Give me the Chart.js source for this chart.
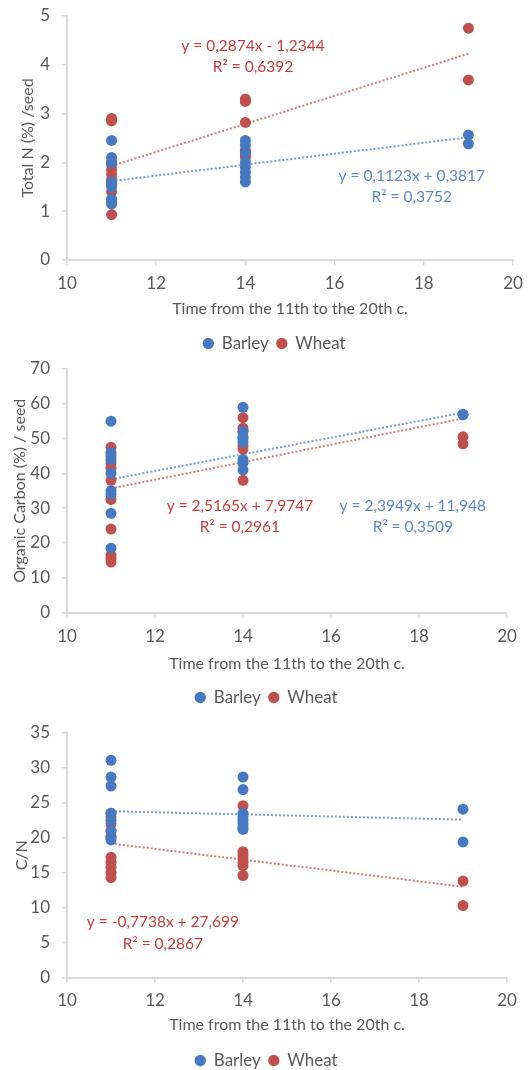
<!DOCTYPE html>
<html lang="en">
<head>
  <meta charset="UTF-8" />
  <title>Barley and wheat seeds, 11th to 20th c.</title>
  <script src="https://cdn.jsdelivr.net/npm/chart.js"></script>
  <style>
    html, body { margin: 0; padding: 0; background: #fff; overflow: hidden; }
    .box { position: absolute; left: 0; width: 528px; }
    canvas { display: block; }
  </style>
</head>
<body>
  <div class="box" style="top:0px"><canvas id="chartN" width="528" height="362"></canvas></div>
  <div class="box" style="top:352px"><canvas id="chartC" width="528" height="364"></canvas></div>
  <div class="box" style="top:710px"><canvas id="chartCN" width="528" height="369"></canvas></div>

  <script>
    // series names
    const seriesNames = ['Barley', 'Wheat'];
    const xTitle = 'Time from the 11th to the 20th c.';

    // total N (%) per seed
    const nBarleyX = [11, 11, 11, 11, 11, 11, 11, 11, 14, 14, 14, 14, 14, 14, 14, 14, 19, 19];
    const nBarleyY = [2.45, 2.1, 2.0, 1.6, 1.5, 1.25, 1.2, 1.15, 2.45, 2.35, 2.2, 2.0, 1.9, 1.8, 1.7, 1.6, 2.56, 2.38];
    const nWheatX = [11, 11, 11, 11, 11, 11, 11, 11, 11, 11, 14, 14, 14, 14, 14, 14, 19, 19];
    const nWheatY = [2.9, 2.85, 2.0, 1.95, 1.85, 1.75, 1.65, 1.55, 1.4, 0.93, 3.3, 3.25, 2.82, 2.25, 2.15, 2.1, 4.75, 3.69];

    // organic carbon (%) per seed
    const cBarleyX = [11, 11, 11, 11, 11, 11, 11, 11, 14, 14, 14, 14, 14, 14, 14, 14, 19, 19];
    const cBarleyY = [55, 46, 44, 40, 35, 34, 28.5, 18.5, 59, 52, 50.5, 50, 49, 44, 43, 41, 57, 56.8];
    const cWheatX = [11, 11, 11, 11, 11, 11, 11, 11, 11, 11, 14, 14, 14, 14, 14, 14, 19, 19];
    const cWheatY = [47.5, 45, 43, 41.5, 38, 32.5, 24, 16.5, 15.5, 14.5, 56, 53, 52, 48, 47, 38, 50.5, 48.5];

    // C/N ratio
    const cnBarleyX = [11, 11, 11, 11, 11, 11, 11, 11, 14, 14, 14, 14, 14, 14, 14, 14, 19, 19];
    const cnBarleyY = [31.1, 28.7, 27.4, 23.5, 22.5, 21, 20, 19.7, 28.7, 26.9, 23.5, 23, 22.5, 22, 21.5, 21.2, 24.1, 19.4];
    const cnWheatX = [11, 11, 11, 11, 11, 11, 11, 11, 11, 11, 14, 14, 14, 14, 14, 14, 14, 19, 19];
    const cnWheatY = [23.5, 23, 22, 21, 20.2, 17.2, 16.5, 15.8, 15, 14.3, 24.6, 18, 17.5, 17, 16.5, 16, 14.6, 13.8, 10.3];

    // trend lines: [slope, intercept], drawn between the first and last sample
    const trendRange = [11, 19];
    const nTrend = { barley: [0.1123, 0.3817], wheat: [0.2874, -1.2344] };
    const cTrend = { barley: [2.3949, 11.948], wheat: [2.5165, 7.9747] };
    const cnTrend = { barley: [-0.15, 25.45], wheat: [-0.7738, 27.699] }; // barley one has no label

    const BLUE = '#4679C2';
    const RED = '#C0504D';
    const BLUE_TXT = '#5A8AC8';
    const RED_TXT = '#C83E3C';
    const GREY = '#595959';
    const AXIS = '#D9D9D9';
    const FONT = 'Lato';

    Chart.defaults.font.family = FONT;
    Chart.defaults.font.size = 17;
    Chart.defaults.color = GREY;

    // writes the trend equations in data coordinates
    const eqLabels = {
      id: 'eqLabels',
      afterDatasetsDraw(chart, args, opts) {
        const { ctx, scales: { x, y } } = chart;
        ctx.save();
        ctx.font = '15.5px ' + FONT;
        ctx.textAlign = 'center';
        ctx.textBaseline = 'middle';
        (opts.items || []).forEach(it => {
          ctx.fillStyle = it.color;
          ctx.fillText(it.text, x.getPixelForValue(it.x), y.getPixelForValue(it.y));
        });
        ctx.restore();
      }
    };

    // nudges the legend sideways (the original one is not centred on the canvas)
    const legendShift = {
      id: 'legendShift',
      afterLayout(chart, args, opts) {
        const lg = chart.legend;
        if (lg && opts.dx) { lg.left += opts.dx; lg.right += opts.dx; }
      }
    };

    const toPoints = (xs, ys) => xs.map((v, i) => ({ x: v, y: ys[i] }));
    const trendPoints = ([a, b]) => trendRange.map(t => ({ x: t, y: a * t + b }));

    function makeChart(id, o) {
      const ctx = document.getElementById(id).getContext('2d');
      return new Chart(ctx, {
        type: 'scatter',
        data: {
          datasets: [
            { label: seriesNames[0], data: toPoints(o.bx, o.by), backgroundColor: BLUE, borderWidth: 0, pointRadius: 5.5, pointHoverRadius: 5.5 },
            { label: seriesNames[1], data: toPoints(o.wx, o.wy), backgroundColor: RED, borderWidth: 0, pointRadius: 5.5, pointHoverRadius: 5.5 },
            { label: 'trend-b', data: trendPoints(o.trend.barley), showLine: true, pointRadius: 0, borderColor: 'rgba(70,121,194,0.75)', borderWidth: 2, borderDash: [2, 2] },
            { label: 'trend-w', data: trendPoints(o.trend.wheat), showLine: true, pointRadius: 0, borderColor: 'rgba(192,80,77,0.75)', borderWidth: 2, borderDash: [2, 2] }
          ]
        },
        options: {
          responsive: false,
          animation: false,
          layout: { padding: { top: o.padTop, right: o.padRight, left: 0, bottom: 0 } },
          plugins: {
            tooltip: { enabled: false },
            legend: {
              position: 'bottom',
              labels: {
                usePointStyle: true, pointStyle: 'circle', boxWidth: 10, boxHeight: 8, padding: 8,
                color: GREY, font: { size: 17 },
                filter: item => item.datasetIndex < 2
              }
            },
            legendShift: { dx: o.legendDx },
            eqLabels: { items: o.labels }
          },
          scales: {
            x: {
              type: 'linear', min: 10, max: 20,
              ticks: { stepSize: 2, padding: o.xTickPad, color: GREY },
              grid: { drawOnChartArea: false, color: AXIS, tickLength: 5, lineWidth: 1.5 },
              border: { color: AXIS, width: 2 },
              title: { display: true, text: xTitle, color: GREY, font: { size: 16 }, padding: { top: 4, bottom: o.xTitlePad } },
              afterFit: s => { s.height = o.xHeight; s.paddingLeft = 0; s.paddingRight = 0; }
            },
            y: {
              min: o.yMin, max: o.yMax,
              ticks: { stepSize: o.yStep, padding: 12, color: GREY },
              grid: { drawOnChartArea: false, color: AXIS, tickLength: 5, lineWidth: 1.5 },
              border: { color: AXIS, width: 2 },
              title: { display: true, text: o.yTitle, color: GREY, font: { size: 16 }, padding: { top: o.yTitlePad, bottom: 0 } },
              afterFit: s => { s.width = 67; s.paddingTop = 0; s.paddingBottom = 0; }
            }
          }
        },
        plugins: [eqLabels, legendShift]
      });
    }

    makeChart('chartN', {
      bx: nBarleyX, by: nBarleyY, wx: nWheatX, wy: nWheatY, trend: nTrend,
      yMin: 0, yMax: 5, yStep: 1, yTitle: 'Total N (%) /seed', yTitlePad: 18,
      padTop: 16, padRight: 15, xHeight: 67, xTickPad: 8, xTitlePad: 9, legendDx: 18,
      labels: [
        { text: 'y = 0,2874x - 1,2344', x: 14.17, y: 4.39, color: RED_TXT },
        { text: 'R² = 0,6392', x: 14.17, y: 3.95, color: RED_TXT },
        { text: 'y = 0,1123x + 0,3817', x: 17.73, y: 1.72, color: BLUE_TXT },
        { text: 'R² = 0,3752', x: 17.73, y: 1.29, color: BLUE_TXT }
      ]
    });

    makeChart('chartC', {
      bx: cBarleyX, by: cBarleyY, wx: cWheatX, wy: cWheatY, trend: cTrend,
      yMin: 0, yMax: 70, yStep: 10, yTitle: 'Organic Carbon (%) / seed', yTitlePad: 10,
      padTop: 17, padRight: 21, xHeight: 68.5, xTickPad: 9, xTitlePad: 8, legendDx: 13,
      labels: [
        { text: 'y = 2,5165x + 7,9747', x: 13.93, y: 30.6, color: RED_TXT },
        { text: 'R² = 0,2961', x: 13.93, y: 24.5, color: RED_TXT },
        { text: 'y = 2,3949x + 11,948', x: 17.86, y: 30.6, color: BLUE_TXT },
        { text: 'R² = 0,3509', x: 17.86, y: 24.5, color: BLUE_TXT }
      ]
    });

    makeChart('chartCN', {
      bx: cnBarleyX, by: cnBarleyY, wx: cnWheatX, wy: cnWheatY, trend: cnTrend,
      yMin: 0, yMax: 35, yStep: 5, yTitle: 'C/N', yTitlePad: 12,
      padTop: 23, padRight: 21, xHeight: 66.5, xTickPad: 8, xTitlePad: 10, legendDx: 13,
      labels: [
        { text: 'y = -0,7738x + 27,699', x: 12.18, y: 7.9, color: RED_TXT },
        { text: 'R² = 0,2867', x: 12.18, y: 4.73, color: RED_TXT }
      ]
    });
  </script>
</body>
</html>
